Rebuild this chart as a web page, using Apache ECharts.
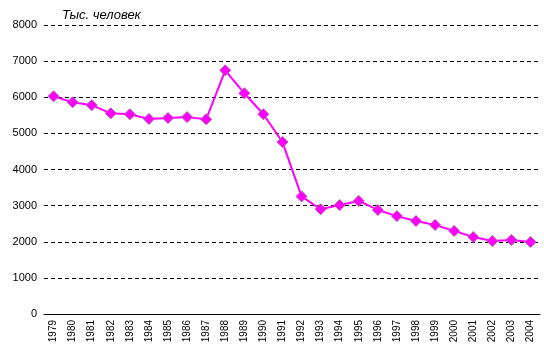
<!DOCTYPE html>
<html><head><meta charset="utf-8">
<script src="https://cdn.jsdelivr.net/npm/echarts@6/dist/echarts.min.js"></script>
<style>html,body{margin:0;padding:0;background:#fff}#c{width:544px;height:359px}</style>
</head><body><div id="c"></div>
<script>
var years = ['1979','1980','1981','1982','1983','1984','1985','1986','1987','1988','1989','1990','1991','1992','1993','1994','1995','1996','1997','1998','1999','2000','2001','2002','2003','2004'];
var values = [6025,5860,5780,5555,5530,5400,5425,5450,5390,6745,6110,5530,4760,3255,2900,3015,3130,2880,2710,2575,2465,2300,2130,2020,2050,1995];
var yTicks = [0,1000,2000,3000,4000,5000,6000,7000,8000];
var unitLabel = 'Тыс. человек';

var chart = echarts.init(document.getElementById('c'), null, {renderer:'canvas'});
chart.setOption({
  animation:false,
  backgroundColor:'#fff',
  title:{text:unitLabel,left:57,top:4,textStyle:{fontFamily:'Liberation Sans, Arial',fontStyle:'italic',fontWeight:'normal',fontSize:13,color:'#000'}},
  grid:{left:44,right:4,top:25,bottom:45,containLabel:false},
  xAxis:{type:'category',data:years,boundaryGap:true,
    axisLine:{lineStyle:{color:'#000',width:1}},
    axisTick:{show:false},
    axisLabel:{rotate:90,fontSize:10,fontFamily:'Liberation Sans, Arial',color:'#000',margin:6,interval:0}},
  yAxis:{type:'value',min:yTicks[0],max:yTicks[yTicks.length-1],interval:1000,
    axisLine:{show:false},axisTick:{show:false},
    axisLabel:{fontSize:11,fontFamily:'Liberation Sans, Arial',color:'#000',margin:7,formatter:function(v){return String(v);}},
    splitLine:{lineStyle:{color:'#000',type:[4,3],width:1}}},
  series:[{type:'line',data:values,symbol:'diamond',symbolSize:11,
    lineStyle:{color:'#ff00ff',width:2},
    itemStyle:{color:'#ff00ff',borderColor:'#b05aa8',borderWidth:1}}]
});
</script></body></html>
